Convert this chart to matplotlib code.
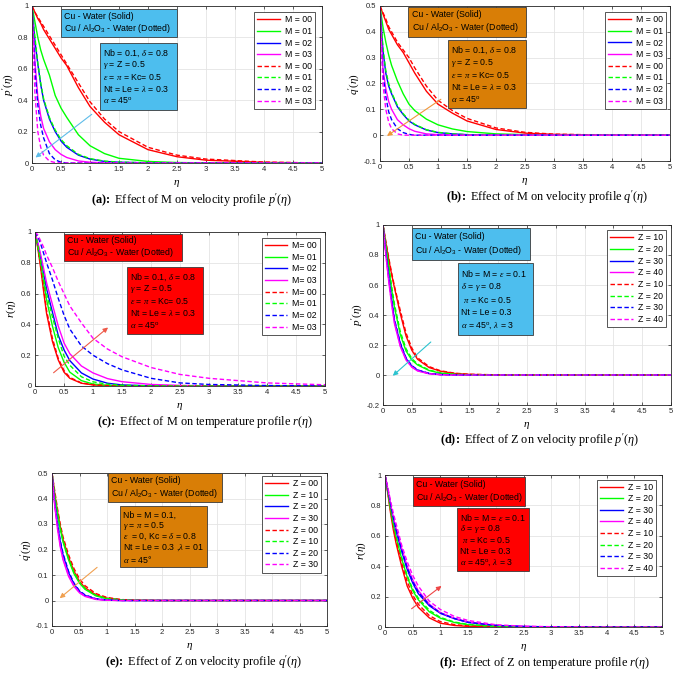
import matplotlib
matplotlib.use('Agg')
import matplotlib.pyplot as plt
from matplotlib.patches import Rectangle
from matplotlib.ticker import FormatStrFormatter, MultipleLocator

plt.rcParams['font.family'] = ['Liberation Sans', 'DejaVu Sans']
plt.rcParams['mathtext.fontset'] = 'custom'
plt.rcParams['mathtext.rm'] = 'Liberation Sans'
plt.rcParams['mathtext.it'] = 'Liberation Serif:italic'
plt.rcParams['mathtext.bf'] = 'Liberation Serif:bold'

# ---------------- data ----------------
ETA = [0, 0.05, 0.1, 0.15, 0.2, 0.3, 0.4, 0.5, 0.6, 0.8, 1.0, 1.25, 1.5, 2.0, 2.5, 3.0, 4.0, 5.0]

M_LABELS = ['M = 00', 'M = 01', 'M = 02', 'M = 03']
M_LABELS_C = ['M= 00', 'M= 01', 'M= 02', 'M= 03']
Z_LABELS = ['Z = 10', 'Z = 20', 'Z = 30', 'Z = 40']
Z_LABELS_E = ['Z = 00', 'Z = 10', 'Z = 20', 'Z = 30']

# (a) p'(eta) vs M
A_SOLID = [
    [1, .96, .92, .89, .85, .79, .73, .67, .62, .48, .36, .26, .18, .085, .04, .018, .004, 0],
    [1, .90, .80, .72, .66, .56, .43, .35, .29, .18, .11, .06, .03, .01, .003, .001, 0, 0],
    [1, .78, .63, .50, .40, .28, .20, .14, .10, .05, .025, .01, .005, .001, 0, 0, 0, 0],
    [1, .65, .42, .30, .22, .135, .085, .055, .035, .013, .005, .001, 0, 0, 0, 0, 0, 0],
]
A_DOTTED = [
    [1, .96, .93, .90, .87, .81, .75, .69, .63, .51, .39, .28, .20, .10, .05, .025, .006, 0],
    [1, .80, .64, .51, .41, .29, .21, .15, .11, .055, .028, .012, .006, .001, 0, 0, 0, 0],
    [1, .60, .37, .24, .16, .06, .02, .005, 0, 0, 0, 0, 0, 0, 0, 0, 0, 0],
    [1, .45, .20, .10, .05, .012, .003, 0, 0, 0, 0, 0, 0, 0, 0, 0, 0, 0],
]
# (b) q'(eta) vs M
B_SOLID = [
    [.5, .47, .44, .41, .39, .35, .32, .28, .24, .17, .12, .085, .055, .022, .008, .003, 0, 0],
    [.5, .42, .36, .31, .27, .21, .16, .12, .095, .062, .04, .024, .014, .005, .002, 0, 0, 0],
    [.5, .33, .24, .19, .16, .11, .08, .055, .04, .02, .01, .005, .002, 0, 0, 0, 0, 0],
    [.5, .26, .18, .13, .10, .06, .04, .025, .015, .005, .002, 0, 0, 0, 0, 0, 0, 0],
]
B_DOTTED = [
    [.5, .475, .45, .42, .40, .36, .33, .30, .26, .19, .135, .095, .065, .028, .011, .004, 0, 0],
    [.5, .34, .25, .20, .165, .115, .083, .058, .042, .021, .011, .005, .002, 0, 0, 0, 0, 0],
    [.5, .24, .15, .09, .06, .025, .01, .003, 0, 0, 0, 0, 0, 0, 0, 0, 0, 0],
    [.5, .20, .10, .05, .025, .005, 0, 0, 0, 0, 0, 0, 0, 0, 0, 0, 0, 0],
]
# (c) r(eta) vs M
C_SOLID = [
    [1, .89, .76, .61, .47, .29, .17, .09, .05, .018, .007, .002, 0, 0, 0, 0, 0, 0],
    [1, .90, .79, .67, .56, .39, .25, .155, .09, .035, .013, .004, .001, 0, 0, 0, 0, 0],
    [1, .92, .83, .73, .63, .48, .33, .235, .165, .085, .045, .018, .007, .001, 0, 0, 0, 0],
    [1, .93, .85, .76, .67, .53, .39, .28, .21, .13, .085, .048, .028, .01, .004, .001, 0, 0],
]
C_DOTTED = [
    [1, .90, .77, .63, .49, .31, .18, .10, .056, .02, .008, .003, .001, 0, 0, 0, 0, 0],
    [1, .91, .81, .70, .60, .45, .31, .195, .135, .06, .027, .012, .005, .001, 0, 0, 0, 0],
    [1, .97, .92, .86, .80, .69, .57, .46, .37, .26, .20, .145, .105, .05, .02, .01, .003, 0],
    [1, .98, .94, .90, .85, .77, .68, .60, .52, .41, .31, .24, .19, .12, .075, .05, .02, .008],
]
# (d) p'(eta) vs Z
D_SOLID = [
    [1, .88, .77, .67, .58, .41, .26, .165, .105, .05, .025, .01, .004, 0, 0, 0, 0, 0],
    [1, .86, .72, .57, .45, .27, .16, .10, .067, .03, .012, .004, .001, 0, 0, 0, 0, 0],
    [1, .82, .65, .50, .36, .21, .11, .06, .032, .01, .003, .001, 0, 0, 0, 0, 0, 0],
    [1, .80, .62, .47, .34, .19, .10, .052, .027, .008, .002, 0, 0, 0, 0, 0, 0, 0],
]
D_DOTTED = [
    [1, .89, .78, .68, .59, .43, .28, .18, .115, .056, .028, .012, .005, .001, 0, 0, 0, 0],
    [1, .87, .73, .59, .47, .29, .175, .11, .073, .033, .014, .005, .002, 0, 0, 0, 0, 0],
    [1, .82, .66, .51, .37, .215, .115, .063, .034, .011, .003, .001, 0, 0, 0, 0, 0, 0],
    [1, .80, .63, .48, .35, .195, .104, .055, .029, .009, .002, 0, 0, 0, 0, 0, 0, 0],
]
# (e) q'(eta) vs Z
E_SOLID = [
    [.5, .42, .35, .29, .24, .17, .115, .075, .05, .022, .009, .003, .001, 0, 0, 0, 0, 0],
    [.5, .41, .34, .28, .23, .16, .105, .068, .044, .018, .007, .002, 0, 0, 0, 0, 0, 0],
    [.5, .38, .30, .23, .18, .11, .065, .035, .02, .006, .002, 0, 0, 0, 0, 0, 0, 0],
    [.5, .37, .28, .21, .16, .095, .055, .03, .016, .004, .001, 0, 0, 0, 0, 0, 0, 0],
]
E_DOTTED = [
    [.5, .43, .36, .30, .25, .18, .125, .085, .058, .027, .012, .004, .001, 0, 0, 0, 0, 0],
    [.5, .415, .345, .285, .235, .165, .11, .072, .047, .02, .008, .003, .001, 0, 0, 0, 0, 0],
    [.5, .385, .305, .235, .185, .115, .068, .038, .022, .007, .002, 0, 0, 0, 0, 0, 0, 0],
    [.5, .375, .285, .215, .165, .10, .058, .032, .018, .005, .001, 0, 0, 0, 0, 0, 0, 0],
]
# (f) r(eta) vs Z
F_SOLID = [
    [1, .88, .75, .64, .55, .40, .27, .19, .13, .06, .025, .01, .004, 0, 0, 0, 0, 0],
    [1, .89, .77, .67, .59, .45, .33, .24, .18, .10, .058, .03, .015, .003, 0, 0, 0, 0],
    [1, .90, .80, .71, .63, .50, .38, .29, .22, .14, .09, .055, .03, .01, .003, .001, 0, 0],
    [1, .91, .81, .72, .65, .52, .40, .31, .24, .15, .095, .058, .033, .011, .004, .001, 0, 0],
]
F_DOTTED = [
    [1, .89, .77, .66, .57, .42, .30, .21, .15, .075, .035, .016, .007, .001, 0, 0, 0, 0],
    [1, .90, .78, .68, .60, .46, .34, .25, .19, .11, .063, .033, .017, .004, .001, 0, 0, 0],
    [1, .91, .81, .72, .64, .51, .39, .30, .23, .145, .092, .056, .031, .01, .003, .001, 0, 0],
    [1, .92, .83, .75, .68, .54, .43, .34, .27, .17, .115, .07, .043, .015, .005, .002, 0, 0],
]

# ---------------- styling ----------------
W, H = 676, 673
COLORS = ['#ff0000', '#00ff00', '#0000ff', '#ff00ff']
DASH = (0, (3.2, 1.8))
BLUE_BOX = '#4dbeee'
ORANGE_BOX = '#d97e06'
RED_BOX = '#ff0000'

BOX1 = ['Cu - Water (Solid)', r'Cu / Al$_2$O$_3$ - Water (Dotted)']
BOX2_M = [r'Nb = 0.1, $\delta$ = 0.8', r'$\gamma$ = Z = 0.5', r'$\epsilon$ = $\pi$ = Kc= 0.5',
          r'Nt = Le = $\lambda$ = 0.3', r'$\alpha$ = 45$^{\mathrm{o}}$']
BOX2_Z = [r'Nb = M = $\epsilon$ = 0.1', r'$\delta$ = $\gamma$ = 0.8', r' $\pi$ = Kc = 0.5',
          'Nt = Le = 0.3', r'$\alpha$ = 45$^{\mathrm{o}}$, $\lambda$ = 3']
BOX2_E = ['Nb = M = 0.1,', r'$\gamma$ = $\pi$ = 0.5', r'$\epsilon$  = 0, Kc = $\delta$ = 0.8',
          r'Nt = Le = 0.3 ,$\lambda$ = 01', r'$\alpha$ = 45°']


def px_rect(l, t, r, b):
    return [l / W, 1 - b / H, (r - l) / W, (b - t) / H]


panels = [
    dict(rect=px_rect(32, 6, 322, 163), solid=A_SOLID, dotted=A_DOTTED, labels=M_LABELS,
         ylim=(0, 1), ystep=0.2, ylabel=r"$p'$($\eta$)",
         cap=r"$\mathbf{(a)\!:}$ Effect of M on velocity profile $p'$($\eta$)", capxy=(192, 200),
         boxc=BLUE_BOX, b1=(.10, .80, .40, .18), b2=(.234, .34, .266, .424), b2t=BOX2_M,
         leg=(.976, .96), arrow=((1.03, .31), (.06, .035)), ac='#5dbce9'),
    dict(rect=px_rect(380, 6, 670, 161), solid=B_SOLID, dotted=B_DOTTED, labels=M_LABELS,
         ylim=(-0.1, 0.5), ystep=0.1, ylabel=r"$q'$($\eta$)",
         cap=r"$\mathbf{(b)\!:}$ Effect of M on velocity profile $q'$($\eta$)", capxy=(547, 197),
         boxc=ORANGE_BOX, b1=(.097, .80, .407, .194), b2=(.234, .34, .269, .44), b2t=BOX2_M,
         leg=(.986, .96), arrow=((1.05, .139), (.12, -.003)), ac='#f0963a'),
    dict(rect=px_rect(35, 232, 325, 386), solid=C_SOLID, dotted=C_DOTTED, labels=M_LABELS_C,
         ylim=(0, 1), ystep=0.2, ylabel=r"$r$($\eta$)",
         cap=r"$\mathbf{(c)\!:}$ Effect of M on temperature profile $r$($\eta$)", capxy=(205, 422),
         boxc=RED_BOX, b1=(.10, .81, .407, .18), b2=(.317, .335, .262, .439), b2t=BOX2_M,
         leg=(.983, .96), arrow=((.32, .086), (1.26, .38)), ac='#ee5a4a'),
    dict(rect=px_rect(383, 225, 671, 405), solid=D_SOLID, dotted=D_DOTTED, labels=Z_LABELS,
         ylim=(-0.2, 1), ystep=0.2, ylabel=r"$p'$($\eta$)",
         cap=r"$\mathbf{(d)\!:}$ Effect of Z on velocity profile $p'$($\eta$)", capxy=(539, 440),
         boxc=BLUE_BOX, b1=(.10, .806, .41, .177), b2=(.26, .39, .26, .40), b2t=BOX2_Z,
         leg=(.983, .97), arrow=((.83, .22), (.17, -.005)), ac='#2cc3cf'),
    dict(rect=px_rect(52, 473, 327, 626), solid=E_SOLID, dotted=E_DOTTED, labels=Z_LABELS_E,
         ylim=(-0.1, 0.5), ystep=0.1, ylabel=r"$q'$($\eta$)",
         cap=r"$\mathbf{(e)\!:}$ Effect of Z on velocity profile $q'$($\eta$)", capxy=(204, 662),
         boxc=ORANGE_BOX, b1=(.204, .81, .414, .19), b2=(.247, .383, .316, .403), b2t=BOX2_E,
         leg=(.978, .98), arrow=((.82, .13), (.14, .009)), ac='#f0a050'),
    dict(rect=px_rect(385, 475, 662, 627), solid=F_SOLID, dotted=F_DOTTED, labels=Z_LABELS,
         ylim=(0, 1), ystep=0.2, ylabel=r"$r$($\eta$)",
         cap=r"$\mathbf{(f)\!:}$ Effect of Z on temperature profile $r$($\eta$)", capxy=(545, 663),
         boxc=RED_BOX, b1=(.10, .797, .405, .19), b2=(.26, .37, .26, .41), b2t=BOX2_Z,
         leg=(.978, .97), arrow=((.48, .12), (1.02, .27)), ac='#ee4444'),
]

fig = plt.figure(figsize=(W / 100, H / 100), dpi=100)
EDGE = '#262626'
FS_BOX = 6.3
FS_LEG = 6.3
FS_CAP = 8.8


def draw_box(ax, rect, color, lines, fracs):
    x0, yb, w, h = rect
    ax.add_patch(Rectangle((x0, yb), w, h, transform=ax.transAxes, fc=color, ec='#3a3a3a',
                           lw=0.6, clip_on=False, zorder=6))
    for line, f in zip(lines, fracs):
        ax.text(x0 + 0.012, yb + h * (1 - f), line, transform=ax.transAxes, fontsize=FS_BOX,
                ha='left', va='center', zorder=7, color='black')


for p in panels:
    ax = fig.add_axes(p['rect'])
    handles = []
    for vals, lab, c in zip(p['solid'], p['labels'], COLORS):
        h, = ax.plot(ETA, vals, color=c, lw=1.0, label=lab)
        handles.append(h)
    for vals, lab, c in zip(p['dotted'], p['labels'], COLORS):
        h, = ax.plot(ETA, vals, color=c, lw=1.0, ls=DASH, label=lab)
        handles.append(h)
    ax.set_xlim(0, 5)
    ax.set_ylim(*p['ylim'])
    ax.xaxis.set_major_locator(MultipleLocator(0.5))
    ax.yaxis.set_major_locator(MultipleLocator(p['ystep']))
    ax.xaxis.set_major_formatter(FormatStrFormatter('%g'))
    ax.yaxis.set_major_formatter(FormatStrFormatter('%g'))
    ax.grid(True, color='#e4e4e4', lw=0.6)
    ax.set_axisbelow(True)
    ax.tick_params(direction='in', length=2.5, width=0.5, top=True, right=True,
                   labelsize=5.5, pad=2.5, colors=EDGE)
    for s in ax.spines.values():
        s.set_color(EDGE)
        s.set_linewidth(0.6)
    ax.set_xlabel(r'$\eta$', fontsize=8, labelpad=3, family='Liberation Serif')
    ax.set_ylabel(p['ylabel'], fontsize=8, labelpad=2, family='Liberation Serif')

    ax.annotate('', xy=p['arrow'][1], xytext=p['arrow'][0],
                arrowprops=dict(arrowstyle='-|>', color=p['ac'], lw=0.8,
                                mutation_scale=7, shrinkA=0, shrinkB=0), zorder=5)

    draw_box(ax, p['b1'], p['boxc'], BOX1, [0.25, 0.70])
    draw_box(ax, p['b2'], p['boxc'], p['b2t'], [0.15, 0.33, 0.51, 0.69, 0.87])

    leg = ax.legend(handles=handles, loc='upper right', bbox_to_anchor=p['leg'],
                    bbox_transform=ax.transAxes, fontsize=FS_LEG, frameon=True, fancybox=False,
                    framealpha=1, edgecolor='#3a3a3a', borderpad=0.35, labelspacing=0.3,
                    handlelength=2.6, handletextpad=0.55, borderaxespad=0)
    leg.get_frame().set_linewidth(0.6)
    leg.set_zorder(8)

    fig.text(p['capxy'][0] / W, 1 - p['capxy'][1] / H, p['cap'], ha='center', va='center',
             fontsize=FS_CAP, family='Liberation Serif')

fig.savefig('out.png', dpi=100)
